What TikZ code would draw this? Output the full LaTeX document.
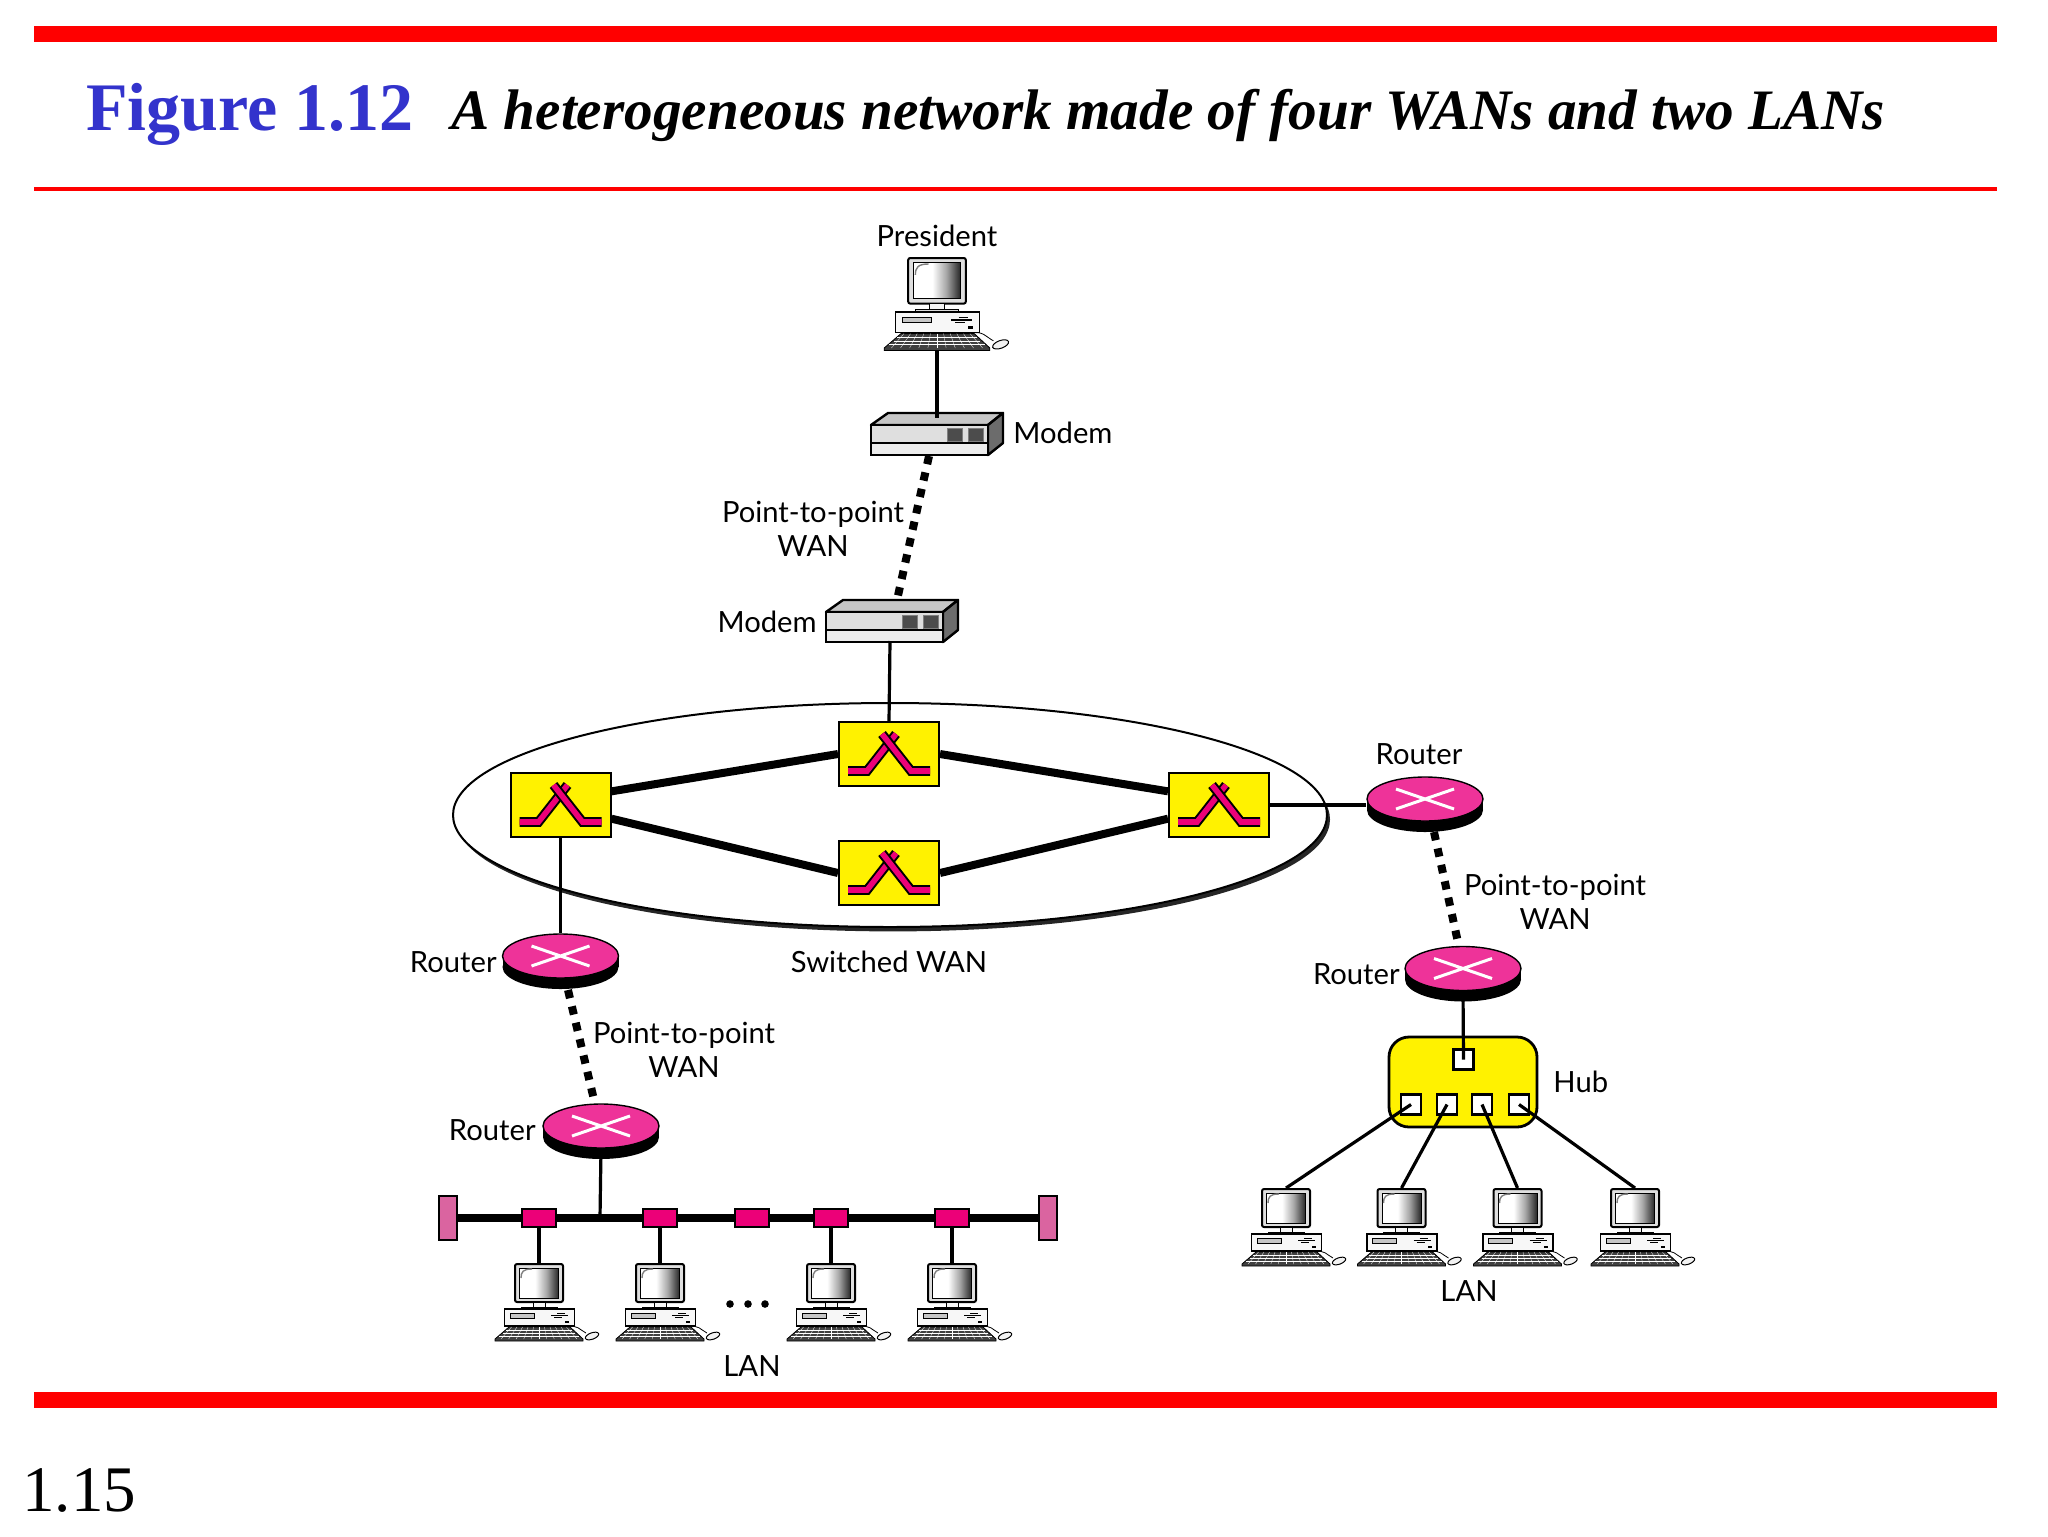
\documentclass[tikz,border=0pt]{standalone}
\usepackage{fontspec}
\setmainfont{Liberation Serif}
\newfontfamily\lblfont{Lato}
\usetikzlibrary{positioning,shapes.geometric,shadows}

\definecolor{barred}{RGB}{255,0,0}
\definecolor{figblue}{RGB}{51,51,204}
\definecolor{rtpink}{RGB}{238,51,153}
\definecolor{tappink}{RGB}{236,0,120}
\definecolor{endpink}{RGB}{218,100,160}
\pgfdeclarehorizontalshading{crtshade}{100bp}{color(0bp)=(white); color(45bp)=(white); color(60bp)=(gray!70); color(75bp)=(black!85); color(100bp)=(black!85)}

\tikzset{
  lbl/.style={font=\lblfont\fontsize{14.6}{17}\selectfont,inner sep=0pt,align=center},
  thinlink/.style={line width=1.6pt},
  thicklink/.style={line width=4pt},
  ptlink/.style={line width=4pt,dash pattern=on 4.2pt off 4.2pt},
  switchbox/.style={draw,line width=1pt,fill=yellow,minimum width=50pt,minimum height=32pt,inner sep=0pt,
    path picture={
      \begin{scope}[shift={(path picture bounding box.center)}]
        \draw[double=tappink,double distance=2.8pt,line width=1pt] (-41,17) -- (-22,17) -- (7,-20);
        \draw[double=tappink,double distance=2.8pt,line width=1pt] (41,17) -- (22,17) -- (-7,-20);
      \end{scope}}},
  port/.style={draw,line width=1.3pt,fill=white,minimum size=10pt,inner sep=0pt},
  tap/.style={draw,line width=1pt,fill=tappink,minimum width=17pt,minimum height=9pt,inner sep=0pt},
  busend/.style={draw,line width=1pt,fill=endpink,minimum width=9pt,minimum height=22pt,inner sep=0pt},
  router/.pic={
    \fill[black] (-58,0) rectangle (58,11);
    \fill[black] (0,11) ellipse [x radius=58,y radius=22];
    \node[ellipse,draw,line width=.7pt,fill=rtpink,minimum width=58pt,minimum height=22pt,inner sep=0pt] (-r) at (0,0) {};
    \draw[white,line width=1.5pt] (-29,-10) -- (29,10) (-29,10) -- (29,-10);
  },
  modem/.pic={
    \draw[line width=1.2pt,fill=gray!45,line join=round] (0,0) -- (17,-12) -- (132,-12) -- (117,0) -- cycle;
    \draw[line width=1.2pt,fill=gray!85!black,line join=round] (117,0) -- (132,-12) -- (132,18) -- (117,30) -- cycle;
    \node[draw,line width=1.2pt,fill=gray!25,minimum width=58.5pt,minimum height=15pt,inner sep=0pt] (-f) at (58.5,15) {};
    \draw[line width=1.2pt,fill=gray!15] (0,18) rectangle (117,30);
    \draw[fill=black!70,draw=gray] (76,3) rectangle (91,16);
    \draw[fill=black!70,draw=gray] (97,3) rectangle (112,16);
  },
  computer/.pic={
    \node[draw,line width=1pt,fill=gray!25,rounded corners=1pt,minimum width=24pt,minimum height=19pt,inner sep=0pt] (-mon) at (0,19) {};
    \node[draw,line width=.5pt,shading=crtshade,minimum width=19.5pt,minimum height=15pt,inner sep=0pt] (-scr) at (0,19) {};
    \draw[gray,line width=.7pt] (-18,14) .. controls (-18,8) and (-16,5) .. (-7,5);
    \draw[line width=.5pt,fill=gray!8] (-6,38) rectangle (6,43);
    \draw[line width=.5pt,fill=gray!30] (-18,43) rectangle (18,45);
    \draw[line width=.6pt,fill=gray!6] (-34.5,45) rectangle (35.5,62);
    \draw[line width=.4pt,fill=gray!45] (-29,49.5) rectangle (-5,54);
    \draw[line width=.7pt] (12,51.5) -- (29,51.5) (18,49.5) -- (26,49.5) (15,53.5) -- (23,53.5);
    \fill[black] (26,57) rectangle (30,59);
    \draw[line width=.4pt,fill=black!75] (-30,63) -- (31,63) -- (44,75) -- (44,77) -- (-44,77) -- (-44,75) -- cycle;
    \foreach \k in {-5,...,5} {
      \draw[white,line width=.15pt] (\k*5.5,63) -- (\k*7.6,75);
    }
    \foreach \r/\w in {66/33,69/36,72/40} {
      \draw[white,line width=.15pt] (-\w,\r) -- (\w,\r);
    }
    \draw[line width=.4pt] (28,63) .. controls (38,60) and (41,66) .. (47,69);
    \draw[line width=.5pt,fill=gray!10,rotate around={20:(53,72)}] (53,72) ellipse [x radius=7,y radius=3.2];
    \coordinate (-base) at (0,77);
  }
}

\begin{document}
\begin{tikzpicture}[x=.5pt,y=-.5pt]
  \useasboundingbox (0,0) rectangle (2048,1536);

  % bars and title
  \fill[barred] (34,26) rectangle (1997,42);
  \fill[barred] (34,186.5) rectangle (1997,190.5);
  \fill[barred] (34,1392) rectangle (1997,1408);
  \node[anchor=base west,inner sep=0pt,text=figblue,font=\fontsize{34}{36}\selectfont\bfseries] (figno) at (86,131) {Figure 1.12};
  \node[anchor=base west,inner sep=0pt,font=\fontsize{28.6}{30}\selectfont\bfseries\itshape] (figtitle) at (451,129) {A heterogeneous network made of four WANs and two LANs};
  \node[anchor=base west,inner sep=0pt,font=\fontsize{32.5}{36}\selectfont] (pageno) at (22,1511) {1.15};

  % switched WAN
  \node[ellipse,draw,line width=1pt,fill=white,minimum width=437pt,minimum height=112pt,inner sep=0pt,
    drop shadow={shadow xshift=1.5pt,shadow yshift=-2.2pt,fill=black,opacity=.85}] (swan) at (890,815) {};
  \node[switchbox] (swL) at (560.5,805) {};
  \node[switchbox] (swT) at (889,754) {};
  \node[switchbox] (swB) at (889,873) {};
  \node[switchbox] (swR) at (1219,805) {};
  \draw[thicklink] (swL.15) -- (swT.west);
  \draw[thicklink] (swL.345) -- (swB.west);
  \draw[thicklink] (swT.east) -- (swR.165);
  \draw[thicklink] (swB.east) -- (swR.195);

  % devices
  \pic[scale=1.2,transform shape] (pres) at (937,258) {computer};
  \pic (mdmA) at (871,425) {modem};
  \pic (mdmB) at (826,612) {modem};
  \pic (rtA) at (560.5,956) {router};
  \pic (rtB) at (601,1126) {router};
  \pic (rtC) at (1425,799) {router};
  \pic (rtD) at (1463,968.5) {router};
  \node[draw,line width=1.4pt,fill=yellow,rounded corners=10pt,minimum width=74pt,minimum height=45pt,inner sep=0pt] (hub) at (1463,1082) {};
  \node[port] (prtT) at (1463.5,1059.5) {};
  \foreach \n/\x in {A/1411,B/1447,C/1482,D/1519} {
    \node[port] (prt\n) at (\x,1104.5) {};
  }

  % president link
  \coordinate (mdmAin) at (937,418);
  \coordinate (mdmAout) at (929,456);
  \coordinate (mdmBin) at (897,600);
  \coordinate (mdmBout) at (890,641);
  \draw[thinlink] (pres-base) -- (mdmAin);
  \draw[ptlink] (mdmAout) -- (mdmBin);
  \draw[thinlink] (mdmBout) -- (swT.north);

  % routers
  \coordinate (rtAout) at (568,990);
  \coordinate (rtBin) at (595,1104);
  \coordinate (rtCout) at (1434,832);
  \coordinate (rtDin) at (1459,947);
  \draw[thinlink] (swL.south) -- (rtA-r.north);
  \draw[thinlink] (swR.east) -- (swR.east -| rtC-r.west);
  \draw[ptlink] (rtAout) -- (rtBin);
  \draw[ptlink] (rtCout) -- (rtDin);

  % bus LAN
  \node[busend] (endL) at (447.5,1218) {};
  \node[busend] (endR) at (1048,1218) {};
  \draw[line width=4.2pt] (endL.east) -- (endR.west);
  \coordinate (busjoin) at (600,1218);
  \draw[thinlink] (rtB-r.south) -- (busjoin);
  \foreach \n/\c in {A/539,B/660,D/831,E/952} {
    \node[tap] (tap\n) at (\c,1218) {};
    \pic (pc\n) at (\c,1264) {computer};
    \draw[thinlink] (tap\n.south) -- (pc\n-mon.north);
  }
  \node[tap] (tapC) at (752,1218) {};
  \foreach \n/\x in {A/730,B/748,C/765} {
    \node[circle,fill=black,minimum size=3.8pt,inner sep=0pt] (dot\n) at (\x,1304) {};
  }

  % hub LAN
  \draw[thinlink] (rtD-r.south) -- (prtT.center);
  \foreach \n/\x in {A/1286,B/1401.5,C/1517.5,D/1635} {
    \pic (hpc\n) at (\x,1189) {computer};
    \draw[thinlink] (prt\n.center) -- (hpc\n-mon.north);
  }

  % labels
  \node[lbl,above=5pt of pres-mon] (lpres) {President};
  \node[lbl,anchor=west] (lmdmA) at (1013,433) {Modem};
  \node[lbl,anchor=east] (lmdmB) at (817,622) {Modem};
  \node[lbl] (lptA) at (813,529) {Point-to-point\\WAN};
  \node[lbl] (lswan) at (889,962) {Switched WAN};
  \node[lbl] (lrtC) at (1419,754) {Router};
  \node[lbl,anchor=east] (lrtA) at (497,962) {Router};
  \node[lbl,anchor=east] (lrtB) at (536,1130) {Router};
  \node[lbl,anchor=east] (lrtD) at (1400,974) {Router};
  \node[lbl] (lptC) at (1555,902) {Point-to-point\\WAN};
  \node[lbl] (lptB) at (684,1050) {Point-to-point\\WAN};
  \node[lbl,anchor=west] (lhub) at (1553,1082) {Hub};
  \node[lbl] (llanR) at (1469,1291) {LAN};
  \node[lbl] (llanL) at (752,1366) {LAN};
\end{tikzpicture}
\end{document}
